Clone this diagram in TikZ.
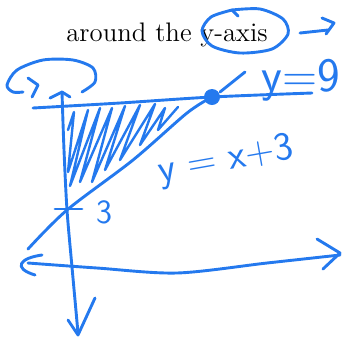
\documentclass[tikz,border=0pt]{standalone}
\usepackage{xcolor}
\usepackage{tikz}
\definecolor{penblue}{HTML}{2479EE}

\begin{document}
\begin{tikzpicture}[x=0.5pt,y=-0.5pt,
  pen/.style={penblue,line width=1.45pt,line cap=round,line join=round},
  hand/.style={penblue,font=\sffamily\fontsize{20}{22}\selectfont,inner sep=0pt}]
  \useasboundingbox (0,0) rectangle (342,339);
  \node[font=\fontsize{13.4}{16}\selectfont,inner sep=0pt] (title) at (167,35) {around the y-axis};
  % circle round y-axis and arrow
  \draw[pen] plot[smooth] coordinates {(232,10) (260,9) (283,19) (288,34) (272,49) (240,53) (212,46) (202,31) (211,17) (232,10)};
  \draw[pen] (232,10) -- (238,16);
  \draw[pen] (300,33) -- (328,30);
  \draw[pen] (322,18) -- (334,23) -- (326,34);
  % rotation curl
  \draw[pen] plot[smooth] coordinates {(82,92) (95,82) (93,68) (73,60) (43,60) (17,70) (7,85) (13,92) (23,92)};
  \draw[pen] (28,78) -- (38,85) -- (32,97);
  % axes
  \draw[pen] plot[smooth] coordinates {(62,92) (64,150) (67,210) (72,267) (75,300) (78,333)};
  \draw[pen] (50,98) -- (62,92) -- (70,97);
  \draw[pen] (68,320) -- (78,335) -- (95,298);
  \draw[pen] plot[smooth] coordinates {(28,263) (97,268) (177,273) (267,263) (340,255)};
  \draw[pen] (42,255) .. controls (20,258) and (12,268) .. (35,275);
  \draw[pen] (317,239) -- (340,253) -- (323,269);
  % y = 9 and y = x + 3
  \draw[pen] plot[smooth] coordinates {(33,108) (120,103) (212,97) (312,93)};
  \draw[pen] plot[smooth] coordinates {(28,249) (67,210) (133,160) (187,113) (212,97)};
  \draw[pen] (220,92) -- (245,72);
  \fill[penblue] (212,97) circle (8);
  \draw[pen] (55,209) -- (82,209);
  % shading
  \draw[pen,line width=1.2pt] (68,130) -- (74,112) -- (68,172) -- (88,110) -- (70,186) -- (100,108)
    -- (80,182) -- (112,108) -- (92,182) -- (125,106) -- (105,170) -- (140,105) -- (120,160)
    -- (155,104) -- (140,145) -- (165,108) -- (158,130) -- (178,107);
  \node[hand,font=\sffamily\fontsize{24}{26}\selectfont] (ynine) at (301,80) {y=9};
  \node[hand,rotate=10] (yline) at (226,161) {y = x+3};
  \node[hand,font=\sffamily\fontsize{17}{19}\selectfont] (three) at (104,212) {3};
\end{tikzpicture}
\end{document}
